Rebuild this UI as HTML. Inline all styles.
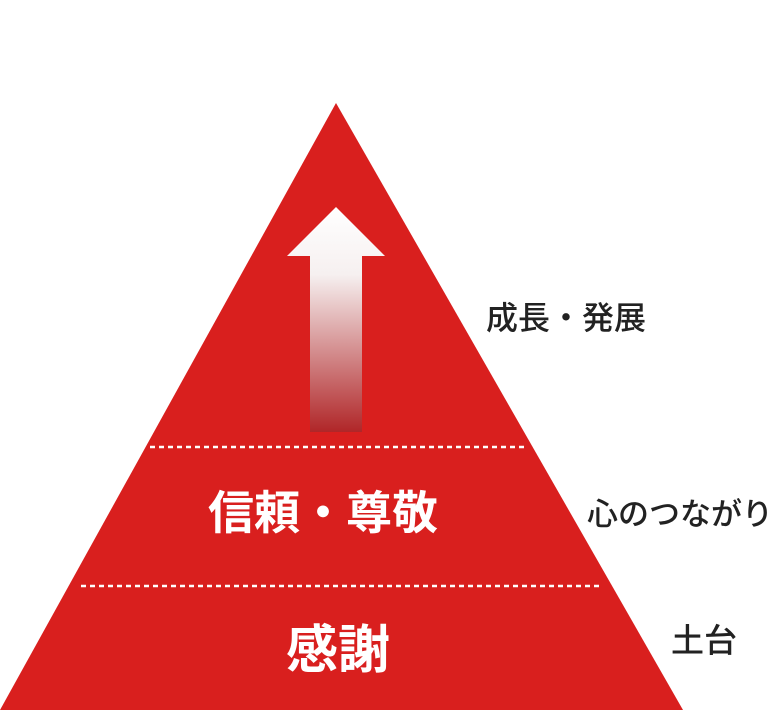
<!DOCTYPE html>
<html><head><meta charset="utf-8"><style>
body{margin:0;width:780px;height:710px;background:#fff;overflow:hidden;position:relative;font-family:"Liberation Sans","Noto Sans CJK JP",sans-serif}
.t{position:absolute;white-space:nowrap;line-height:1}
</style></head><body>
<svg width="780" height="710" style="position:absolute;left:0;top:0">
<defs><linearGradient id="g" x1="0" y1="0" x2="0" y2="1">
<stop offset="0" stop-color="#fff"/><stop offset="0.3" stop-color="#f6f0f0"/><stop offset="1" stop-color="#b02628"/></linearGradient></defs>
<polygon points="336,103 683,710 0,710" fill="#d91f1e"/>
<polygon points="336,207 385,256 362,256 362,432 310,432 310,256 287,256" fill="url(#g)"/>
<line x1="150" y1="447" x2="525" y2="447" stroke="#fff" stroke-width="2.5" stroke-dasharray="5,4"/>
<line x1="81" y1="586" x2="601" y2="586" stroke="#fff" stroke-width="2.5" stroke-dasharray="5,4"/>
</svg>
<div class="t" style="left:208px;top:490px;font-size:46px;font-weight:bold;color:#fff">信頼・尊敬</div>
<div class="t" style="left:286px;top:625px;font-size:52px;font-weight:bold;color:#fff">感謝</div>
<div class="t" style="left:486px;top:302px;font-size:32px;font-weight:500;color:#222">成長・発展</div>
<div class="t" style="left:587px;top:499px;font-size:31px;font-weight:500;color:#222">心のつながり</div>
<div class="t" style="left:671px;top:624px;font-size:33px;font-weight:500;color:#222">土台</div>
</body></html>
